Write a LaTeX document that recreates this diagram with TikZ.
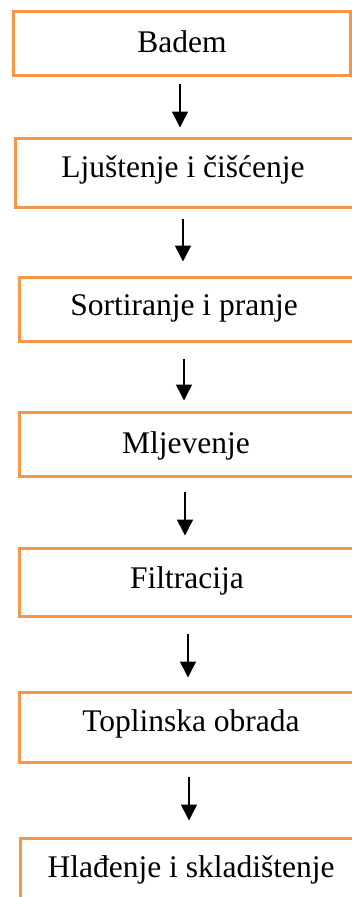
\documentclass[tikz,border=0pt]{standalone}
\usepackage{fontspec}
\setmainfont{Liberation Serif}
\usetikzlibrary{arrows.meta}
\definecolor{boxorange}{HTML}{F79646}
\tikzset{
  stepbox/.style={draw=boxorange, line width=3pt, rectangle, inner sep=0pt, fill=white},
  label text/.style={font=\fontsize{31.5pt}{34pt}\selectfont, anchor=base, inner sep=0pt},
  arr/.style={line width=1.5pt, -{Triangle[length=16pt,width=16pt]}}
}
\begin{document}
\begin{tikzpicture}[x=1pt,y=-1pt]
\useasboundingbox (0,0) rectangle (351,897);
% boxes: left/right x, top/bottom y
\node[stepbox, minimum width=337pt, minimum height=64pt] (b1) at (181.5,43) {};
\node[stepbox, minimum width=339pt, minimum height=69pt] (b2) at (184.5,172.5) {};
\node[stepbox, minimum width=334pt, minimum height=64pt] (b3) at (186,309) {};
\node[stepbox, minimum width=334pt, minimum height=64pt] (b4) at (186,444) {};
\node[stepbox, minimum width=334pt, minimum height=68pt] (b5) at (186,582) {};
\node[stepbox, minimum width=334pt, minimum height=70pt] (b6) at (186,727) {};
\node[stepbox, minimum width=335pt, minimum height=70pt] (b7) at (187.5,873) {};
% texts
\node[label text] (t1) at (182,52) {Badem};
\node[label text] (t2) at (183,177) {Ljuštenje i čišćenje};
\node[label text] (t3) at (184,315) {Sortiranje i pranje};
\node[label text] (t4) at (186,453) {Mljevenje};
\node[label text] (t5) at (187,588) {Filtracija};
\node[label text] (t6) at (191,731) {Toplinska obrada};
\node[label text] (t7) at (191,877) {Hlađenje i skladištenje};
% arrows
\draw[arr] ([xshift=-1.5pt,yshift=-7pt]b1.south) -- ([xshift=-4.5pt,yshift=9pt]b2.north);
\draw[arr] ([xshift=-1.5pt,yshift=-10pt]b2.south) -- ([xshift=-3pt,yshift=14pt]b3.north);
\draw[arr] ([xshift=-2pt,yshift=-16pt]b3.south) -- ([xshift=-2pt,yshift=10pt]b4.north);
\draw[arr] ([xshift=-1pt,yshift=-14pt]b4.south) -- ([xshift=-1pt,yshift=11pt]b5.north);
\draw[arr] ([xshift=2pt,yshift=-16pt]b5.south) -- ([xshift=2pt,yshift=13pt]b6.north);
\draw[arr] ([xshift=3pt,yshift=-13pt]b6.south) -- ([xshift=1.5pt,yshift=16pt]b7.north);
\end{tikzpicture}
\end{document}
